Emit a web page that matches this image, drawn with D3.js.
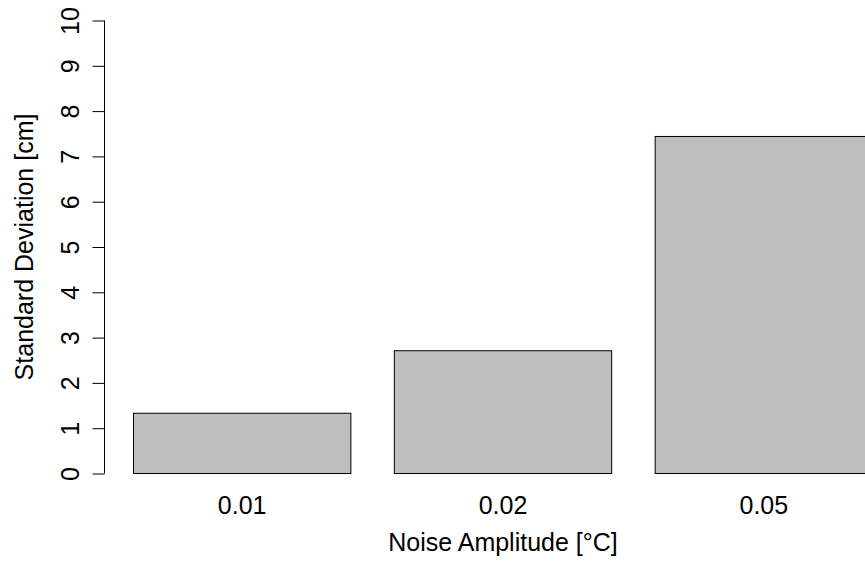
<!DOCTYPE html>
<html>
<head>
<meta charset="utf-8">
<script src="https://cdn.jsdelivr.net/npm/d3@7"></script>
<style>
html, body { margin: 0; padding: 0; background: #fff; }
svg { display: block; }
text { font-family: "Liberation Sans", Arial, Helvetica, sans-serif; fill: #000; }
</style>
</head>
<body>
<svg id="chart" width="865" height="576"></svg>
<script>
const categories = ["0.01", "0.02", "0.05"];
const stdDev = [1.33, 2.71, 7.44];
const yTicks = [0, 1, 2, 3, 4, 5, 6, 7, 8, 9, 10];
const xTitle = "Noise Amplitude [°C]";
const yTitle = "Standard Deviation [cm]";

const svg = d3.select("#chart");
const fontSize = 25;

const x = d3.scaleBand()
  .domain(categories)
  .range([133.5, 872.5])
  .paddingInner(1 / 6)
  .paddingOuter(0);

const y = d3.scaleLinear()
  .domain([0, 10])
  .range([473.5, 20.5]);

// bars
svg.append("g")
  .selectAll("rect")
  .data(categories)
  .join("rect")
  .attr("x", d => x(d))
  .attr("y", (d, i) => y(stdDev[i]))
  .attr("width", x.bandwidth())
  .attr("height", (d, i) => y(0) - y(stdDev[i]))
  .attr("fill", "#bebebe")
  .attr("stroke", "#000")
  .attr("stroke-width", 1);

// y axis
const yAxis = d3.axisLeft(y)
  .tickValues(yTicks)
  .tickSize(12)
  .tickPadding(14)
  .tickFormat(d3.format("d"));

const gy = svg.append("g")
  .attr("transform", "translate(104.5,0)")
  .call(yAxis);
gy.select(".domain")
  .attr("d", `M0,${y(0)}V${y(10)}`)
  .attr("stroke", "#000");
gy.selectAll(".tick line").attr("stroke", "#000");
gy.selectAll(".tick text")
  .attr("font-size", fontSize)
  .attr("font-family", "'Liberation Sans', Arial, sans-serif")
  .attr("fill", "#000")
  .attr("text-anchor", "middle")
  .attr("dy", null)
  .attr("x", null)
  .attr("transform", "translate(-26,0) rotate(-90)");

// x labels (no axis line, as in R barplot)
svg.append("g")
  .selectAll("text")
  .data(categories)
  .join("text")
  .attr("x", d => x(d) + x.bandwidth() / 2)
  .attr("y", 514)
  .attr("text-anchor", "middle")
  .attr("font-size", fontSize)
  .text(d => d);

// axis titles
svg.append("text")
  .attr("x", (x.range()[0] + x.range()[1]) / 2)
  .attr("y", 551)
  .attr("text-anchor", "middle")
  .attr("font-size", fontSize)
  .text(xTitle);

svg.append("text")
  .attr("transform", `translate(33,${(y(0) + y(10)) / 2}) rotate(-90)`)
  .attr("text-anchor", "middle")
  .attr("font-size", fontSize)
  .text(yTitle);
</script>
</body>
</html>
